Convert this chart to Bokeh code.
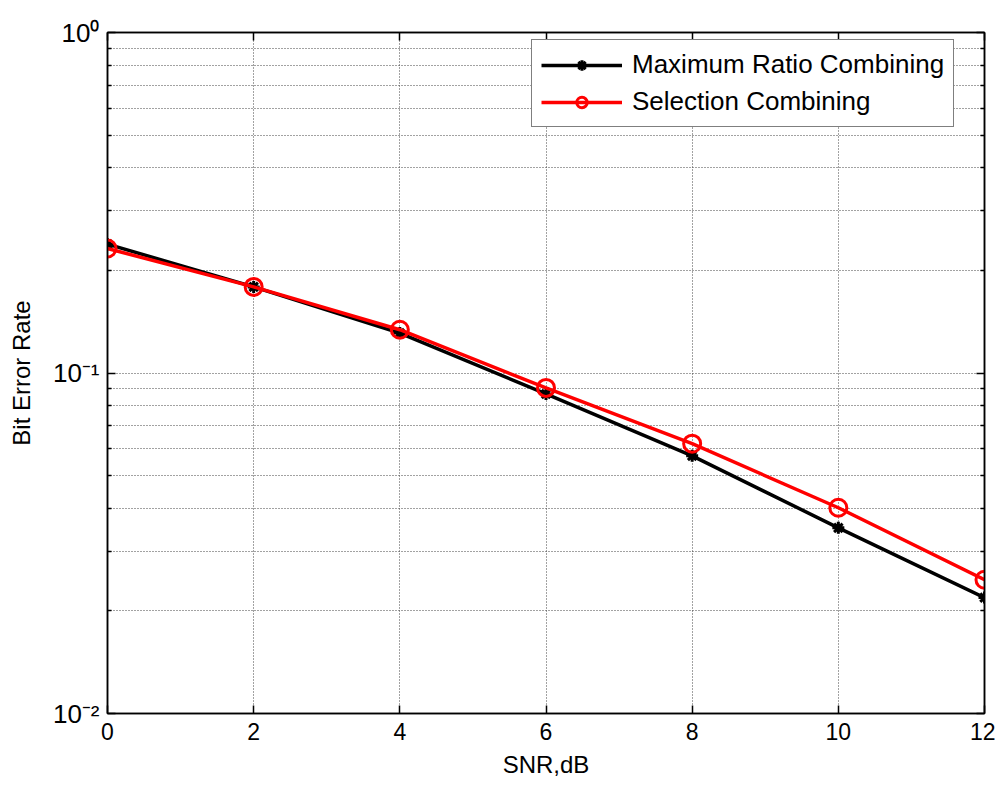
from bokeh.plotting import figure
from bokeh.models import (Range1d, FixedTicker, Legend, LegendItem, CustomJSTickFormatter,
                          LinearAxis, LogAxis)
from bokeh.embed import file_html
from bokeh.resources import INLINE

snr = [0, 2, 4, 6, 8, 10, 12]
ber_mrc = [0.239, 0.179, 0.131, 0.0868, 0.0571, 0.0351, 0.0219]
ber_sc = [0.232, 0.179, 0.134, 0.0904, 0.0620, 0.0402, 0.0247]
x_ticks = [0, 2, 4, 6, 8, 10, 12]
y_ticks = [0.01, 0.1, 1.0]
y_minor = [m * d for d in (0.01, 0.1) for m in range(2, 10)]

FONT = "Liberation Sans"

p = figure(width=995, height=780, y_axis_type="log",
           x_range=Range1d(0, 12), y_range=Range1d(0.01, 1.0),
           output_backend="svg", toolbar_location=None,
           min_border_left=107, min_border_right=11, min_border_top=32, min_border_bottom=66)

p.outline_line_color = "black"
p.outline_line_width = 1.5
p.background_fill_color = "white"
p.border_fill_color = "white"

bottom_ax = p.xaxis[0]
left_ax = p.yaxis[0]

xt = FixedTicker(ticks=x_ticks)
yt = FixedTicker(ticks=y_ticks, minor_ticks=y_minor)
bottom_ax.ticker = xt
left_ax.ticker = yt
left_ax.formatter = CustomJSTickFormatter(code="""
const e = Math.round(Math.log10(tick));
const sup = {'-':'\u207b','0':'\u2070','1':'\u00b9','2':'\u00b2'};
return '10' + String(e).split('').map(c => sup[c]).join('');
""")

top_ax = LinearAxis(ticker=xt, major_label_text_font_size="1px", major_label_text_alpha=0)
right_ax = LogAxis(ticker=yt, major_label_text_font_size="1px", major_label_text_alpha=0)
p.add_layout(top_ax, "above")
p.add_layout(right_ax, "right")

for ax in (bottom_ax, left_ax, top_ax, right_ax):
    ax.axis_line_color = "black"
    ax.axis_line_width = 1.5
    ax.major_tick_in = 8
    ax.major_tick_out = 0
    ax.minor_tick_in = 4
    ax.minor_tick_out = 0
    ax.major_tick_line_width = 1.5
    ax.minor_tick_line_width = 1.5
    ax.major_label_text_font = FONT
    ax.major_label_text_color = "black"
    ax.axis_label_text_font = FONT
    ax.axis_label_text_font_size = "24px"
    ax.axis_label_text_font_style = "normal"
    ax.axis_label_text_color = "black"
bottom_ax.major_label_text_font_size = "23px"
left_ax.major_label_text_font_size = "26px"
bottom_ax.minor_tick_line_color = None
top_ax.minor_tick_line_color = None
top_ax.major_label_standoff = 0
right_ax.major_label_standoff = 0
bottom_ax.axis_label = "SNR,dB"
left_ax.axis_label = "Bit Error Rate"
bottom_ax.major_label_standoff = 9
bottom_ax.axis_label_standoff = 8
left_ax.major_label_standoff = 8
left_ax.axis_label_standoff = 15

p.xgrid.grid_line_color = "#444444"
p.xgrid.grid_line_dash = "1 2"
p.xgrid.grid_line_width = 1
p.ygrid.grid_line_color = "#444444"
p.ygrid.grid_line_dash = "1 2"
p.ygrid.minor_grid_line_color = "#444444"
p.ygrid.minor_grid_line_dash = "1 2"

l1 = p.line(snr, ber_mrc, line_color="black", line_width=3.5)
m1 = p.scatter(snr, ber_mrc, marker="asterisk", size=12, line_color="black", line_width=3)
l2 = p.line(snr, ber_sc, line_color="red", line_width=3.5)
m2 = p.scatter(snr, ber_sc, marker="circle", size=17, fill_color=None, line_color="red", line_width=3)

legend = Legend(items=[
    LegendItem(label="Maximum Ratio Combining", renderers=[l1, m1]),
    LegendItem(label="Selection Combining", renderers=[l2, m2]),
], location=(424, 586))
legend.label_text_font = FONT
legend.label_text_font_size = "26px"
legend.label_text_color = "black"
legend.glyph_width = 81
legend.glyph_height = 26
legend.label_height = 26
legend.label_standoff = 10
legend.spacing = 6
legend.padding = 9
legend.margin = 0
legend.border_line_color = "black"
legend.border_line_width = 1.5
legend.background_fill_alpha = 1
p.add_layout(legend)

open("out.html", "w").write(file_html(p, INLINE))
